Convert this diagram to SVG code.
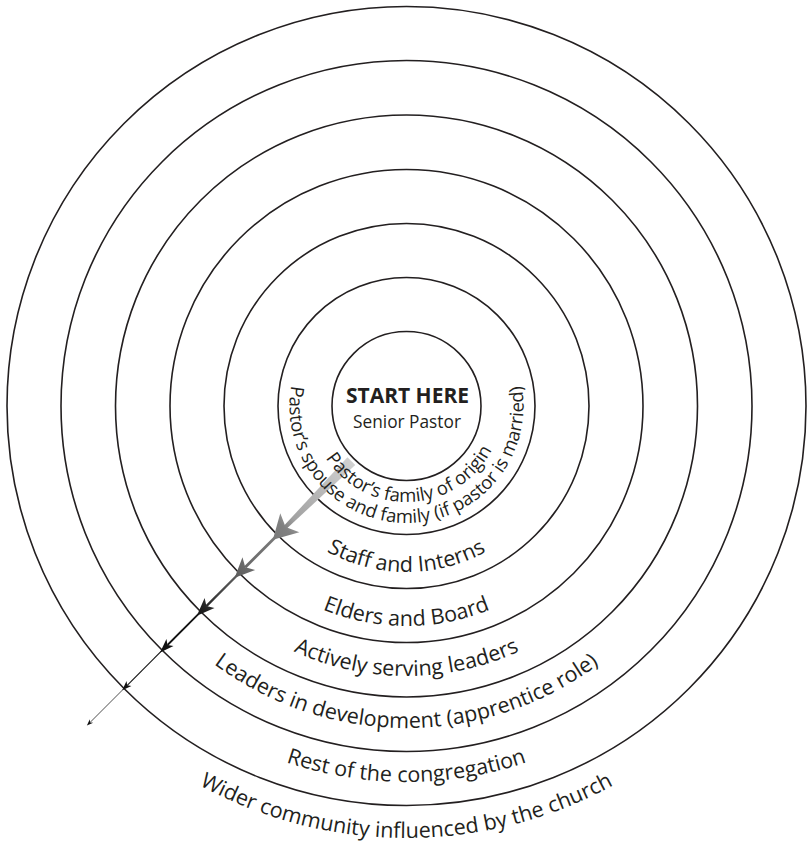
<svg xmlns="http://www.w3.org/2000/svg" width="809" height="845" viewBox="0 0 809 845">
<style>
.ring{fill:none;stroke:#231f20;stroke-width:1.6}
.lbl{font-family:"Open Sans","Noto Sans",sans-serif;fill:#231f20}
.r{font-size:21.5px}
.in{font-size:18.5px}
</style>
<defs>
<linearGradient id="ag" gradientUnits="userSpaceOnUse" x1="80" y1="0" x2="300" y2="0">
<stop offset="0" stop-color="#d0d0d0"/>
<stop offset="0.36" stop-color="#a2a2a2"/>
<stop offset="0.42" stop-color="#808080"/>
<stop offset="0.68" stop-color="#686868"/>
<stop offset="0.84" stop-color="#444444"/>
<stop offset="0.95" stop-color="#1c1c1c"/>
<stop offset="1" stop-color="#111111"/>
</linearGradient>
<path id="p1" d="M338.62 338.12 A96 96 0 1 0 474.38 338.12"/>
<path id="p2" d="M323.77 323.27 A117 117 0 1 0 489.23 323.27"/>
<path id="p3" d="M289.12 288.62 A166 166 0 1 0 523.88 288.62"/>
<path id="p4" d="M250.94 250.44 A220 220 0 1 0 562.06 250.44"/>
<path id="p5" d="M215.58 215.08 A270 270 0 1 0 597.42 215.08"/>
<path id="p6" d="M178.81 178.31 A322 322 0 1 0 634.19 178.31"/>
<path id="p7" d="M140.63 140.13 A376 376 0 1 0 672.37 140.13"/>
<path id="p8" d="M101.03 100.53 A432 432 0 1 0 711.97 100.53"/>
</defs>

<g id="rings">
<circle id="ring-wider" class="ring" cx="406.5" cy="406" r="399.5"/>
<circle id="ring-rest" class="ring" cx="406.5" cy="406" r="345.5"/>
<circle id="ring-development" class="ring" cx="406.5" cy="406" r="291"/>
<circle id="ring-active" class="ring" cx="406.5" cy="406" r="236.5"/>
<circle id="ring-elders" class="ring" cx="406.5" cy="406" r="182.5"/>
<circle id="ring-staff" class="ring" cx="406.5" cy="406" r="128.5"/>
<circle id="ring-pastor" class="ring" cx="406.5" cy="406" r="74.5"/>
</g>

<g id="connectors" transform="translate(406.5 406) rotate(135)" fill="url(#ag)" stroke="url(#ag)">
<polygon points="78,-5.5 172,-2 172,2 78,5.5" stroke="none"/>
<path d="M189 0 L165 -13.5 L171 0 L165 13.5 Z" stroke="none"/>
<line x1="170" y1="0" x2="228" y2="0" stroke-width="2.8" fill="none"/>
<path d="M243 0 L223 -9 L228 0 L223 9 Z" stroke="none"/>
<line x1="238" y1="0" x2="283" y2="0" stroke-width="2.3" fill="none"/>
<path d="M296.5 0 L278.5 -7 L283 0 L278.5 7 Z" stroke="none"/>
<line x1="294" y1="0" x2="338" y2="0" stroke-width="1.8" fill="none"/>
<path d="M348.5 0 L334.5 -5 L338 0 L334.5 5 Z" stroke="none"/>
<line x1="346" y1="0" x2="395" y2="0" stroke-width="1.1" fill="none"/>
<path d="M402 0 L392.5 -3.5 L395 0 L392.5 3.5 Z" stroke="none"/>
<line x1="400" y1="0" x2="448" y2="0" stroke-width="0.7" fill="none"/>
<path d="M452 0 L445.5 -2.4 L447.5 0 L445.5 2.4 Z" stroke="none"/>
</g>

<g id="node-pastor">
<text class="lbl" x="407.5" y="403" text-anchor="middle" font-size="21" font-weight="bold">START HERE</text>
<text class="lbl" x="407" y="428" text-anchor="middle" font-size="17.3">Senior Pastor</text>
</g>
<g id="node-family-origin">
<text class="lbl in"><textPath href="#p1" startOffset="51%" text-anchor="middle">Pastor’s family of origin</textPath></text>
</g>
<g id="node-spouse">
<text class="lbl in"><textPath href="#p2" startOffset="50%" text-anchor="middle">Pastor’s spouse and family (if pastor is married)</textPath></text>
</g>
<g id="node-staff">
<text class="lbl r"><textPath href="#p3" startOffset="50%" text-anchor="middle">Staff and Interns</textPath></text>
</g>
<g id="node-elders">
<text class="lbl r"><textPath href="#p4" startOffset="50%" text-anchor="middle">Elders and Board</textPath></text>
</g>
<g id="node-active">
<text class="lbl r"><textPath href="#p5" startOffset="50%" text-anchor="middle">Actively serving leaders</textPath></text>
</g>
<g id="node-development">
<text class="lbl r"><textPath href="#p6" startOffset="50%" text-anchor="middle">Leaders in development (apprentice role)</textPath></text>
</g>
<g id="node-rest">
<text class="lbl r"><textPath href="#p7" startOffset="50%" text-anchor="middle">Rest of the congregation</textPath></text>
</g>
<g id="node-wider">
<text class="lbl r"><textPath href="#p8" startOffset="50%" text-anchor="middle">Wider community influenced by the church</textPath></text>
</g>
</svg>
